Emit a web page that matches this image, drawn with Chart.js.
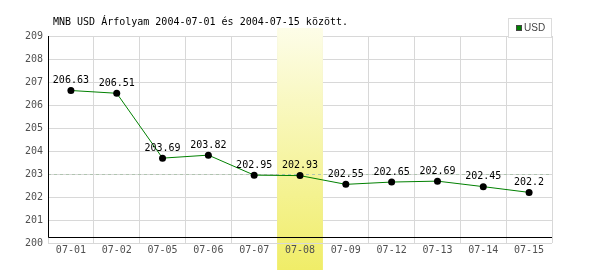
<!DOCTYPE html>
<html>
<head>
<meta charset="utf-8">
<script src="https://cdn.jsdelivr.net/npm/chart.js@4.4.1/dist/chart.umd.min.js"></script>
<style>
  html, body { margin: 0; padding: 0; background: #fff; }
</style>
</head>
<body>
<canvas id="rateChart" width="600" height="270"></canvas>
<script>
const dates = ['07-01', '07-02', '07-05', '07-06', '07-07', '07-08', '07-09', '07-12', '07-13', '07-14', '07-15'];
const usdRates = [206.63, 206.51, 203.69, 203.82, 202.95, 202.93, 202.55, 202.65, 202.69, 202.45, 202.2];
const yTicks = [200, 201, 202, 203, 204, 205, 206, 207, 208, 209];
const refLevel = 203;
const highlightDate = '07-08';
const titleText = 'MNB USD Árfolyam 2004-07-01 és 2004-07-15 között.';

const MONO = '"DejaVu Sans Mono", monospace';

function highlightRect(chart) {
    const x = chart.scales.x;
    const idx = dates.indexOf(highlightDate);
    const half = (x.getPixelForValue(1) - x.getPixelForValue(0)) / 2;
    const cx = x.getPixelForValue(idx);
    return { left: cx - half, right: cx + half };
}

function highlightFill(ctx, chart) {
    const g = ctx.createLinearGradient(0, 28, 0, chart.height);
    g.addColorStop(0, '#fdfde8');
    g.addColorStop(1, '#f0ed68');
    return g;
}

const decorPlugin = {
    id: 'decor',
    beforeDraw(chart) {
        const ctx = chart.ctx;
        const r = highlightRect(chart);
        ctx.save();
        ctx.fillStyle = highlightFill(ctx, chart);
        ctx.fillRect(r.left, 28, r.right - r.left, chart.height - 28);
        ctx.restore();
    },
    beforeDatasetsDraw(chart) {
        const ctx = chart.ctx;
        const area = chart.chartArea;
        const r = highlightRect(chart);
        ctx.save();
        // cover the grid inside the highlighted column
        ctx.fillStyle = highlightFill(ctx, chart);
        ctx.fillRect(r.left, 28, r.right - r.left, area.bottom - 28);

        // reference level
        const yRef = Math.round(chart.scales.y.getPixelForValue(refLevel)) + 0.5;
        ctx.strokeStyle = '#b0c4b0';
        ctx.lineWidth = 1;
        ctx.setLineDash([3, 3]);
        ctx.beginPath();
        ctx.moveTo(area.left, yRef);
        ctx.lineTo(area.right, yRef);
        ctx.stroke();
        ctx.setLineDash([]);

        // axes
        const yAxis = area.bottom - 5.5;
        ctx.strokeStyle = '#000';
        ctx.beginPath();
        ctx.moveTo(area.left + 0.5, area.top);
        ctx.lineTo(area.left + 0.5, yAxis);
        ctx.lineTo(area.right, yAxis);
        ctx.stroke();
        ctx.restore();
    },
    afterDatasetsDraw(chart) {
        const ctx = chart.ctx;
        const meta = chart.getDatasetMeta(0);
        ctx.save();
        ctx.fillStyle = '#000';
        ctx.font = '10px ' + MONO;
        ctx.textAlign = 'center';
        ctx.textBaseline = 'middle';
        meta.data.forEach((pt, i) => {
            ctx.fillText(String(usdRates[i]), pt.x, pt.y - 10);
        });
        ctx.restore();
    },
    afterDraw(chart) {
        const ctx = chart.ctx;
        const area = chart.chartArea;
        ctx.save();
        // title
        ctx.fillStyle = '#000';
        ctx.font = '10px ' + MONO;
        ctx.textAlign = 'left';
        ctx.textBaseline = 'middle';
        ctx.fillText(titleText, area.left + 5, 22);

        // legend
        const bx = area.right - 44, by = 18;
        ctx.fillStyle = '#fff';
        ctx.fillRect(bx, by, 44, 20);
        ctx.strokeStyle = '#dcdcdc';
        ctx.strokeRect(bx + 0.5, by + 0.5, 43, 19);
        ctx.fillStyle = '#008000';
        ctx.fillRect(bx + 8, by + 7, 6, 6);
        ctx.strokeStyle = '#444';
        ctx.strokeRect(bx + 8.5, by + 7.5, 5, 5);
        ctx.fillStyle = '#444';
        ctx.font = '10px "Liberation Sans", sans-serif';
        ctx.fillText(chart.data.datasets[0].label, bx + 16, by + 10.5);
        ctx.restore();
    }
};

const ctx = document.getElementById('rateChart').getContext('2d');

new Chart(ctx, {
    type: 'line',
    data: {
        labels: dates,
        datasets: [{
            label: 'USD',
            data: usdRates,
            borderColor: '#008000',
            borderWidth: 1,
            tension: 0,
            pointRadius: 3.5,
            pointBackgroundColor: '#000',
            pointBorderColor: '#000',
            pointBorderWidth: 0
        }]
    },
    options: {
        responsive: false,
        animation: false,
        layout: { padding: { left: 0, top: 36, right: 48, bottom: 0 } },
        plugins: {
            legend: { display: false },
            title: { display: false },
            tooltip: { enabled: false }
        },
        scales: {
            x: {
                offset: true,
                grid: { offset: true, color: '#d8d8d8', drawTicks: false },
                border: { display: false },
                ticks: { color: '#505050', font: { family: MONO, size: 10 }, padding: 1, maxRotation: 0 },
                afterFit(scale) { scale.height = 27; }
            },
            y: {
                min: 200,
                max: 209,
                afterBuildTicks(scale) { scale.ticks = yTicks.map(v => ({ value: v })); },
                grid: { color: '#d8d8d8', drawTicks: false },
                border: { display: false },
                ticks: { color: '#505050', font: { family: MONO, size: 10 }, padding: 5 },
                afterFit(scale) { scale.width = 48; }
            }
        }
    },
    plugins: [decorPlugin]
});
</script>
</body>
</html>
